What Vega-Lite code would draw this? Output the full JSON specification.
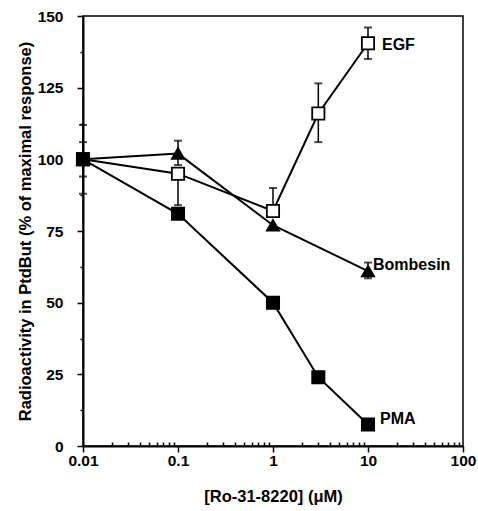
{
  "$schema": "https://vega.github.io/schema/vega-lite/v6.json",
  "autosize": {"type": "none"},
  "padding": {"left": 83, "top": 16, "right": 15, "bottom": 65},
  "width": 380,
  "height": 430,
  "config": {
    "view": {"stroke": "black", "strokeWidth": 1.5},
    "font": "Liberation Sans",
    "axis": {
      "domainColor": "black", "domainWidth": 2, "tickColor": "black", "tickWidth": 1.5,
      "labelColor": "black", "titleColor": "black", "labelFont": "Liberation Sans",
      "titleFont": "Liberation Sans", "labelFontSize": 15.5, "titleFontSize": 16.5,
      "labelFontWeight": "bold", "titleFontWeight": "bold", "grid": false, "labelFlush": false
    }
  },
  "datasets": {
    "pts": [
      {"series": "EGF", "x": 0.01, "y": 100},
      {"series": "EGF", "x": 0.1, "y": 95},
      {"series": "EGF", "x": 1, "y": 82},
      {"series": "EGF", "x": 3, "y": 116},
      {"series": "EGF", "x": 10, "y": 140.5},
      {"series": "Bombesin", "x": 0.01, "y": 100},
      {"series": "Bombesin", "x": 0.1, "y": 102},
      {"series": "Bombesin", "x": 1, "y": 77},
      {"series": "Bombesin", "x": 10, "y": 61},
      {"series": "PMA", "x": 0.01, "y": 100},
      {"series": "PMA", "x": 0.1, "y": 81},
      {"series": "PMA", "x": 1, "y": 50},
      {"series": "PMA", "x": 3, "y": 24},
      {"series": "PMA", "x": 10, "y": 7.5}
    ],
    "err": [
      {"series": "EGF", "x": 0.01, "lo": 88, "hi": 112},
      {"series": "Bombesin", "x": 0.01, "lo": 94, "hi": 106},
      {"series": "EGF", "x": 0.1, "lo": 84, "hi": 95},
      {"series": "Bombesin", "x": 0.1, "lo": 98, "hi": 106.5},
      {"series": "EGF", "x": 1, "lo": 82, "hi": 90},
      {"series": "EGF", "x": 3, "lo": 106, "hi": 126.5},
      {"series": "EGF", "x": 10, "lo": 135, "hi": 146},
      {"series": "Bombesin", "x": 10, "lo": 58.5, "hi": 64}
    ],
    "labels": [
      {"label": "EGF", "x": 10, "y": 140},
      {"label": "Bombesin", "x": 10, "y": 63},
      {"label": "PMA", "x": 10, "y": 9.5}
    ]
  },
  "resolve": {"axis": {"x": "independent", "y": "independent"}},
  "layer": [
    {
      "data": {"name": "err"},
      "mark": {"type": "rule", "color": "black", "strokeWidth": 1.5},
      "encoding": {
        "x": {"field": "x", "type": "quantitative", "scale": {"type": "log", "domain": [0.01, 100]},
          "axis": {"orient": "bottom", "title": "[Ro-31-8220] (μM)", "values": [0.01, 0.1, 1, 10, 100], "labelExpr": "toString(datum.value)", "tickSize": 6, "labelPadding": 1, "titlePadding": 20}},
        "y": {"field": "lo", "type": "quantitative", "scale": {"domain": [0, 150]},
          "axis": {"orient": "left", "title": "Radioactivity in PtdBut (% of maximal response)", "values": [0, 25, 50, 75, 100, 125, 150], "tickSize": 6, "labelPadding": 14, "titlePadding": 4}},
        "y2": {"field": "hi"}
      }
    },
    {
      "data": {"name": "err"},
      "mark": {"type": "tick", "orient": "horizontal", "color": "black", "size": 8, "thickness": 2},
      "encoding": {
        "x": {"field": "x", "type": "quantitative", "scale": {"type": "log", "domain": [0.01, 100]},
          "axis": {"orient": "bottom", "title": null, "labels": false, "domain": false, "tickSize": -4,
            "values": [0.02,0.03,0.04,0.05,0.06,0.07,0.08,0.09,0.2,0.3,0.4,0.5,0.6,0.7,0.8,0.9,2,3,4,5,6,7,8,9,20,30,40,50,60,70,80,90]}},
        "y": {"field": "hi", "type": "quantitative", "scale": {"domain": [0, 150]},
          "axis": {"orient": "left", "title": null, "labels": false, "domain": false, "tickSize": 3, "values": [12.5, 37.5, 62.5, 87.5, 112.5, 137.5]}}
      }
    },
    {
      "data": {"name": "err"},
      "mark": {"type": "tick", "orient": "horizontal", "color": "black", "size": 8, "thickness": 2},
      "encoding": {
        "x": {"field": "x", "type": "quantitative", "scale": {"type": "log", "domain": [0.01, 100]}, "axis": null},
        "y": {"field": "lo", "type": "quantitative", "scale": {"domain": [0, 150]}, "axis": null}
      }
    },
    {
      "data": {"name": "pts"},
      "mark": {"type": "line", "color": "black", "strokeWidth": 2},
      "encoding": {
        "x": {"field": "x", "type": "quantitative", "scale": {"type": "log", "domain": [0.01, 100]}, "axis": null},
        "y": {"field": "y", "type": "quantitative", "scale": {"domain": [0, 150]}, "axis": null},
        "detail": {"field": "series"}
      }
    },
    {
      "data": {"name": "pts"},
      "mark": {"type": "point", "filled": false, "opacity": 1, "strokeWidth": 1.8, "stroke": "black"},
      "encoding": {
        "x": {"field": "x", "type": "quantitative", "scale": {"type": "log", "domain": [0.01, 100]}, "axis": null},
        "y": {"field": "y", "type": "quantitative", "scale": {"domain": [0, 150]}, "axis": null},
        "shape": {"field": "series", "type": "nominal", "scale": {"domain": ["EGF", "Bombesin", "PMA"], "range": ["square", "triangle-up", "square"]}, "legend": null},
        "fill": {"field": "series", "type": "nominal", "scale": {"domain": ["EGF", "Bombesin", "PMA"], "range": ["white", "black", "black"]}, "legend": null},
        "size": {"value": 150}
      }
    },
    {
      "data": {"name": "labels"},
      "transform": [{"filter": "datum.label == 'EGF'"}],
      "mark": {"type": "text", "align": "left", "baseline": "middle", "fontSize": 16, "fontWeight": "bold", "font": "Liberation Sans", "color": "black", "dx": 14},
      "encoding": {
        "x": {"field": "x", "type": "quantitative", "scale": {"type": "log", "domain": [0.01, 100]}, "axis": null},
        "y": {"field": "y", "type": "quantitative", "scale": {"domain": [0, 150]}, "axis": null},
        "text": {"field": "label"}
      }
    },
    {
      "data": {"name": "labels"},
      "transform": [{"filter": "datum.label == 'Bombesin'"}],
      "mark": {"type": "text", "align": "left", "baseline": "middle", "fontSize": 16, "fontWeight": "bold", "font": "Liberation Sans", "color": "black", "dx": 5},
      "encoding": {
        "x": {"field": "x", "type": "quantitative", "scale": {"type": "log", "domain": [0.01, 100]}, "axis": null},
        "y": {"field": "y", "type": "quantitative", "scale": {"domain": [0, 150]}, "axis": null},
        "text": {"field": "label"}
      }
    },
    {
      "data": {"name": "labels"},
      "transform": [{"filter": "datum.label == 'PMA'"}],
      "mark": {"type": "text", "align": "left", "baseline": "middle", "fontSize": 16, "fontWeight": "bold", "font": "Liberation Sans", "color": "black", "dx": 12},
      "encoding": {
        "x": {"field": "x", "type": "quantitative", "scale": {"type": "log", "domain": [0.01, 100]}, "axis": null},
        "y": {"field": "y", "type": "quantitative", "scale": {"domain": [0, 150]}, "axis": null},
        "text": {"field": "label"}
      }
    }
  ]
}
